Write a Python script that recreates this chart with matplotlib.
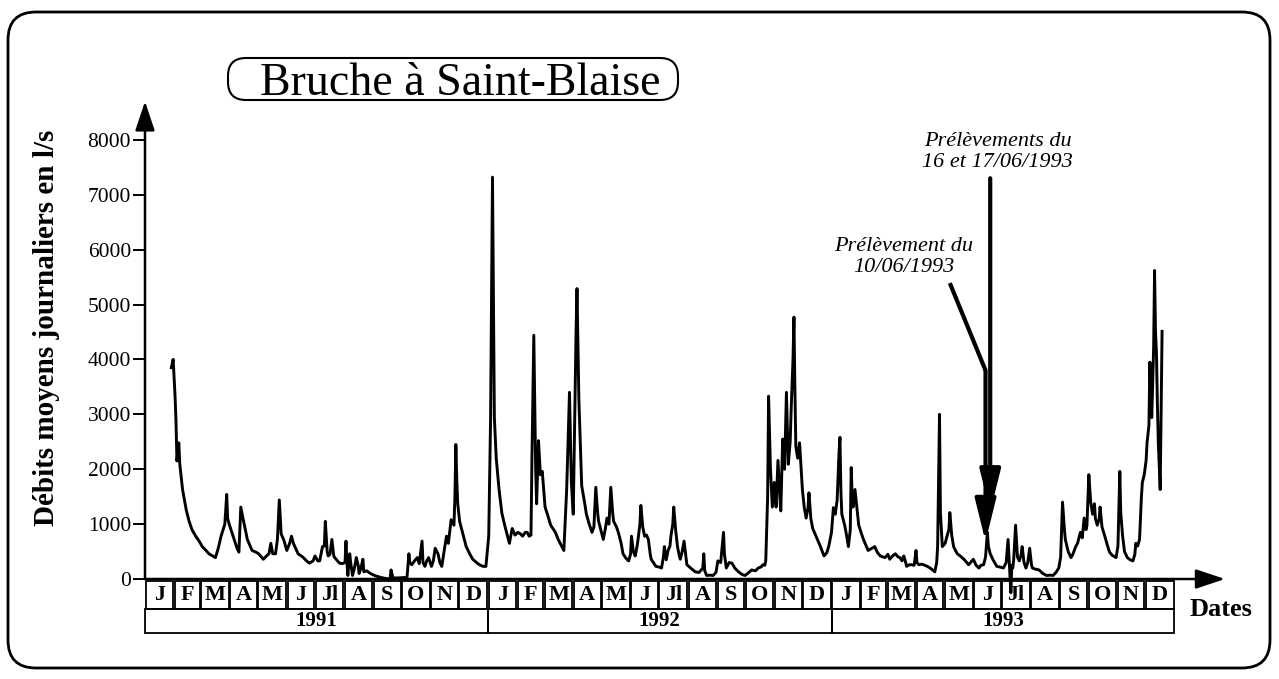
import matplotlib
matplotlib.use("Agg")
import matplotlib.pyplot as plt
from matplotlib.patches import FancyBboxPatch, Rectangle

plt.rcParams['font.family'] = ['Liberation Serif', 'DejaVu Serif']

# daily mean discharge: day counted from 1 Jan 1991, value in l/s
days = [28, 30, 32, 33, 34, 36, 37, 40, 44, 47, 50, 54, 58, 61, 65, 68, 75, 78, 81, 85,
        87, 88, 90, 95, 98, 100, 102, 105, 109, 114, 118, 121, 126, 130, 132, 134, 136, 139, 141, 143,
        145, 148, 151, 154, 156, 158, 163, 168, 172, 175, 179, 181, 184, 186, 189, 191, 192, 194, 195, 197,
        199, 201, 202, 207, 210, 213, 214, 215, 216, 218, 219, 221, 223, 225, 227, 228, 230, 232, 233, 236,
        240, 245, 251, 256, 261, 262, 264, 270, 279, 281, 282, 284, 287, 290, 292, 295, 296, 298, 300, 302,
        305, 307, 309, 312, 314, 316, 318, 321, 323, 326, 329, 330, 331, 332, 333, 335, 337, 342, 346, 349,
        353, 356, 360, 363,
        366, 368, 370, 372, 374, 377, 380, 383, 386, 388, 391, 394, 397, 400, 402, 405, 407, 409, 411, 412,
        414, 416, 417, 419, 421, 423, 426, 429, 432, 435, 437, 440, 443, 446, 449, 452, 454, 456, 457, 459,
        460, 462, 465, 468, 470, 473, 476, 478, 480, 482, 483, 486, 488, 490, 492, 494, 496, 498, 499, 502,
        504, 507, 509, 512, 515, 517, 518, 520, 522, 524, 525, 527, 528, 530, 532, 534, 536, 538, 539, 542,
        544, 547, 550, 552, 553, 555, 557, 559, 560, 562, 563, 565, 567, 569, 570, 572, 574, 576, 577, 581,
        586, 590, 594, 595, 596, 598, 602, 605, 608, 610, 613, 616, 617, 619, 622, 625, 628, 632, 636, 639,
        643, 646, 650, 653, 656, 658, 660, 661, 663, 664, 666, 668, 670, 672, 674, 676, 677, 679, 681, 683,
        685, 687, 688, 690, 691, 692, 693, 695, 697, 699, 700, 702, 704, 706, 707, 709, 711, 714, 716, 719,
        723, 726, 728,
        731, 733, 735, 737, 739, 740, 741, 742, 745, 747, 749, 751, 752, 753, 754, 756, 758, 760, 763, 765,
        768, 770, 774, 777, 780, 783, 786, 788, 791, 793, 796, 799, 802, 804, 806, 808, 810, 811, 814, 816,
        819, 821, 822, 824, 827, 829, 833, 836, 839, 841, 843, 844, 846, 847, 849, 852, 854, 856, 857, 859,
        861, 863, 865, 868, 872, 875, 877, 880, 882, 885, 888, 890, 893, 895, 897, 898, 900, 903, 907, 910,
        914, 917, 919, 922, 923, 924, 925, 927, 929, 931, 933, 934, 936, 938, 940, 942, 944, 945, 948, 952,
        956, 960, 964, 967, 970, 973, 975, 977, 979, 980, 983, 986, 988, 991, 993, 996, 998, 1000, 1002, 1003,
        1005, 1007, 1009, 1011, 1012, 1014, 1016, 1017, 1019, 1022, 1025, 1027, 1030, 1034, 1036, 1038, 1039, 1041, 1043, 1046,
        1049, 1052, 1054, 1055, 1057, 1059, 1061, 1062, 1064, 1066, 1067, 1069, 1070, 1071, 1072, 1074, 1075, 1076, 1077, 1078,
        1079, 1081, 1082, 1083]
flow = [3850, 4000, 3330, 2880, 2150, 2480, 2100, 1630, 1250, 1050, 900, 780, 680, 590, 520, 460, 390, 560, 780, 1000,
        1540, 1100, 980, 720, 560, 490, 1310, 1050, 720, 520, 490, 460, 360, 430, 460, 650, 460, 460, 720, 1440,
        820, 700, 520, 650, 780, 650, 460, 400, 330, 290, 330, 420, 330, 330, 590, 600, 1050, 500, 420, 450,
        720, 420, 390, 290, 280, 300, 690, 300, 65, 460, 300, 65, 200, 390, 250, 100, 200, 360, 130, 150,
        100, 60, 30, 10, 0, 165, 20, 20, 30, 460, 300, 260, 330, 390, 280, 690, 300, 230, 330, 390,
        230, 330, 560, 460, 300, 230, 450, 780, 650, 1080, 980, 1500, 2450, 1800, 1370, 1050, 920, 590, 450, 360,
        300, 260, 230, 230,
        780, 2940, 7320, 2940, 2200, 1630, 1200, 980, 780, 650, 920, 800, 850, 820, 780, 850, 850, 780, 800, 2160,
        4440, 2000, 1370, 2520, 1900, 1960, 1310, 1150, 980, 900, 850, 720, 620, 520, 1630, 3400, 1760, 1180, 2290, 4500,
        5290, 3270, 1700, 1400, 1180, 1000, 850, 950, 1670, 1200, 1050, 850, 720, 900, 1110, 1000, 1670, 1200, 1050, 950,
        850, 650, 460, 380, 330, 450, 780, 500, 420, 600, 720, 1000, 1340, 950, 780, 800, 720, 450, 360, 280,
        230, 220, 200, 400, 590, 350, 520, 600, 780, 1000, 1310, 900, 590, 420, 360, 500, 690, 400, 260, 200,
        130, 120, 200, 460, 150, 65, 70, 65, 120, 330, 300, 850, 450, 200, 300, 290, 200, 130, 80, 65,
        120, 165, 150, 200, 220, 260, 250, 330, 1500, 3330, 2000, 1310, 1760, 1310, 2160, 1500, 1240, 2550, 2000, 3400,
        2090, 2500, 3070, 4000, 4770, 3500, 2420, 2200, 2480, 1900, 1630, 1300, 1110, 1300, 1570, 1100, 920, 800, 720, 600,
        420, 480, 590,
        850, 1300, 1180, 1440, 2300, 2580, 1600, 1180, 980, 800, 590, 900, 2030, 1500, 1310, 1630, 1300, 980, 820, 720,
        600, 520, 560, 590, 480, 420, 400, 390, 450, 360, 420, 460, 400, 390, 330, 420, 300, 230, 260, 260,
        250, 520, 300, 260, 270, 260, 230, 200, 160, 130, 300, 590, 3000, 1200, 590, 650, 780, 900, 1210, 800,
        590, 520, 460, 420, 360, 300, 260, 320, 360, 250, 200, 250, 260, 400, 850, 600, 460, 350, 230, 220,
        200, 300, 720, -250, 250, 200, 350, 980, 400, 330, 450, 590, 300, 200, 300, 560, 250, 200, 180, 165,
        100, 65, 70, 65, 120, 200, 400, 1400, 900, 720, 500, 390, 450, 590, 650, 850, 750, 1110, 900, 980,
        1900, 1400, 1180, 1370, 1100, 980, 1100, 1310, 950, 780, 600, 490, 430, 390, 600, 1960, 1200, 780, 500, 390,
        350, 330, 450, 650, 600, 720, 1500, 1760, 1900, 2160, 2480, 2800, 3950, 3300, 2940, 4200, 5620, 4500, 4120, 3200,
        2480, 1630, 3000, 4510]

years = ['1991', '1992', '1993']
month_days = [[31, 28, 31, 30, 31, 30, 31, 31, 30, 31, 30, 31],
              [31, 29, 31, 30, 31, 30, 31, 31, 30, 31, 30, 31],
              [31, 28, 31, 30, 31, 30, 31, 31, 30, 31, 30, 31]]
month_labels = ['J', 'F', 'M', 'A', 'M', 'J', 'Jl', 'A', 'S', 'O', 'N', 'D']
yticks = [0, 1000, 2000, 3000, 4000, 5000, 6000, 7000, 8000]

fig = plt.figure(figsize=(12.79, 6.79), dpi=100)

# pixel overlay for the frame and the title box
bg = fig.add_axes([0, 0, 1, 1])
bg.set_xlim(0, 1279)
bg.set_ylim(679, 0)
bg.axis('off')
bg.add_patch(FancyBboxPatch((8, 12), 1262, 656, boxstyle='round,pad=0,rounding_size=28',
                            fc='none', ec='k', lw=2))
bg.add_patch(FancyBboxPatch((228, 58), 450, 42, boxstyle='round,pad=0,rounding_size=18',
                            fc='none', ec='k', lw=1.5))
bg.text(460, 95, 'Bruche à Saint-Blaise', fontsize=33, ha='center', va='baseline')
bg.text(47, 328, 'Débits moyens journaliers en l/s', fontsize=21, fontweight='bold',
        rotation=90, ha='center', va='center')
bg.text(1221, 609, 'Dates', fontsize=19, fontweight='bold', ha='center', va='center')

ax = fig.add_axes([145 / 1279, 1 - 640 / 679, 1080 / 1279, 540 / 679])
ax.patch.set_visible(False)
ax.set_xlim(0, 1150)
ax.set_ylim(-1111, 8725)
for s in ax.spines.values():
    s.set_visible(False)
ax.set_xticks([])
ax.set_yticks(yticks)
ax.set_yticklabels([str(v) for v in yticks], fontsize=15.5)
ax.tick_params(axis='y', length=9, width=1.4, pad=1)

# axes drawn as arrows
ax.annotate('', xy=(0, 8700), xytext=(0, 0),
            arrowprops=dict(arrowstyle='-|>,head_length=0.9,head_width=0.3', lw=1.8, color='k',
                            mutation_scale=20, shrinkA=0, shrinkB=0), annotation_clip=False)
ax.annotate('', xy=(1150, 0), xytext=(0, 0),
            arrowprops=dict(arrowstyle='-|>,head_length=0.9,head_width=0.3', lw=1.8, color='k',
                            mutation_scale=20, shrinkA=0, shrinkB=0), annotation_clip=False)

# month and year boxes under the axis
start = 0
for y, md in zip(years, month_days):
    ystart = start
    for lab, n in zip(month_labels, md):
        ax.add_patch(Rectangle((start + 0.8, -546), n - 1.6, 510, fc='none', ec='k', lw=1.3,
                               clip_on=False))
        ax.text(start + n / 2, -300, lab, fontsize=16, fontweight='bold', ha='center', va='center')
        start += n
    ax.add_patch(Rectangle((ystart, -984), start - ystart, 438, fc='none', ec='k', lw=1.3,
                           clip_on=False))
    ax.text((ystart + start) / 2, -770, y, fontsize=15, fontweight='bold', ha='center', va='center')

ax.plot(days, flow, color='k', lw=2.1, clip_on=False)

# sampling annotations
arrow = dict(arrowstyle='-|>,head_length=1.3,head_width=0.32', lw=3, color='k',
             mutation_scale=20, shrinkA=0, shrinkB=0)
ax.annotate('', xy=(900, 1220), xytext=(900, 7300), arrowprops=arrow)
ax.plot([857, 895], [5390, 3800], color='k', lw=3, solid_capstyle='butt')
ax.annotate('', xy=(895, 680), xytext=(895, 3800), arrowprops=arrow)
ax.text(908, 7780, 'Prélèvements du\n16 et 17/06/1993', fontsize=16, style='italic',
        ha='center', va='center', linespacing=1.15)
ax.text(808, 5870, 'Prélèvement du\n10/06/1993', fontsize=16, style='italic',
        ha='center', va='center', linespacing=1.15)

fig.savefig('out.png', dpi=100)
